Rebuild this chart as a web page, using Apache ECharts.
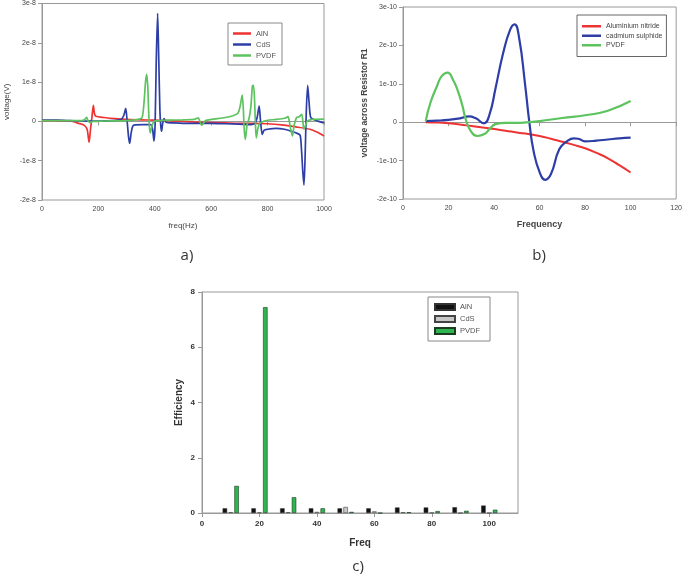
<!DOCTYPE html>
<html>
<head>
<meta charset="utf-8">
<script src="https://cdn.jsdelivr.net/npm/echarts@6/dist/echarts.min.js"></script>
<style>
html,body{margin:0;padding:0;background:#fff;}
#chart{width:685px;height:579px;}
</style>
</head>
<body>
<div id="chart"></div>
<script>
// ---------- Panel a) voltage(V) vs freq(Hz), values in units of 1e-8 V ----------
const aTicksY = [-2, -1, 0, 1, 2, 3];
const aAlN = [[0,0.02],[50,0.02],[100,0.01],[130,-0.05],[150,-0.1],[160,-0.2],[167,-0.53],[172,-0.2],[177,0.1],[182,0.41],[186,0.2],[191,0.13],[220,0.1],[260,0.07],[300,0.05],[350,0.04],[400,0.03],[450,0.02],[500,0],[550,-0.02],[600,-0.03],[650,-0.04],[700,-0.05],[750,-0.05],[800,-0.06],[850,-0.09],[900,-0.14],[950,-0.2],[975,-0.27],[1000,-0.37]];
const aCdS = [[0,0.03],[50,0.03],[100,0.02],[150,0.01],[200,0.01],[250,0.02],[280,0.05],[290,0.15],[297,0.33],[302,0.0],[307,-0.4],[311,-0.56],[316,-0.3],[322,-0.12],[330,-0.09],[360,-0.08],[385,-0.08],[392,-0.2],[397,-0.5],[401,-0.1],[405,1.5],[410,2.75],[414,1.6],[418,0.3],[421,-0.1],[424,-0.25],[428,-0.05],[433,0.07],[440,-0.02],[470,-0.04],[500,-0.05],[550,-0.05],[600,-0.05],[650,-0.06],[700,-0.07],[740,-0.08],[755,-0.05],[763,0.1],[770,0.39],[775,0.0],[781,-0.33],[788,-0.22],[800,-0.2],[830,-0.18],[860,-0.2],[880,-0.24],[900,-0.29],[915,-0.35],[920,-0.7],[925,-1.3],[929,-1.62],[933,-0.9],[937,0.2],[942,0.92],[947,0.5],[953,0.1],[970,0.03],[1000,-0.04]];
const aPVDF = [[0,0.02],[50,0.02],[100,0.02],[140,0.02],[152,0.05],[158,0.1],[163,0.02],[170,-0.03],[180,0.0],[220,0.01],[300,0.02],[340,0.05],[355,0.1],[362,0.5],[367,1.0],[371,1.2],[375,0.9],[378,0.3],[381,-0.15],[384,-0.29],[390,-0.12],[397,0.0],[420,0.02],[450,0.03],[500,0.04],[540,0.05],[554,0.09],[560,0.0],[566,-0.1],[572,-0.05],[580,0.02],[600,0.05],[650,0.1],[680,0.15],[696,0.22],[703,0.4],[710,0.67],[714,0.3],[717,-0.2],[721,-0.46],[727,-0.1],[735,0.1],[741,0.4],[746,0.9],[750,0.92],[754,0.5],[757,-0.1],[760,-0.42],[765,-0.2],[772,-0.05],[785,0.0],[800,0.03],[830,0.05],[860,0.08],[872,0.12],[877,0.0],[882,-0.2],[888,-0.37],[894,-0.1],[903,0.1],[912,0.12],[921,0.18],[925,0.0],[929,-0.2],[934,-0.12],[940,0.0],[960,0.05],[1000,0.06]];

// ---------- Panel b) voltage across Resistor R1 vs Frequency, units of 1e-10 ----------
const bAlN = [[10,0],[15,-0.01],[20,-0.03],[25,-0.06],[30,-0.1],[35,-0.14],[40,-0.18],[45,-0.22],[50,-0.27],[55,-0.31],[60,-0.36],[65,-0.43],[70,-0.51],[75,-0.59],[80,-0.68],[85,-0.8],[90,-0.94],[95,-1.12],[100,-1.31]];
const bCdS = [[10,0.03],[15,0.04],[20,0.06],[25,0.1],[29,0.15],[32,0.1],[35.5,-0.03],[38,0.2],[40.7,0.9],[44,1.8],[47,2.4],[49,2.55],[51,2.2],[53.6,1.0],[55.5,0.0],[57.3,-0.73],[60,-1.3],[62.5,-1.5],[65,-1.35],[68.7,-0.7],[72,-0.5],[75,-0.42],[77,-0.43],[80,-0.5],[85,-0.48],[90,-0.45],[95,-0.42],[100,-0.4]];
const bPVDF = [[10,0.03],[12,0.5],[15,0.95],[17,1.2],[19.6,1.29],[22,1.1],[24,0.83],[26,0.45],[27.7,0.05],[30,-0.25],[32.7,-0.36],[36,-0.3],[38,-0.18],[40.7,-0.05],[45,-0.02],[50,-0.02],[55,0.0],[60,0.03],[70,0.11],[80,0.18],[90,0.3],[100,0.55]];

// ---------- Panel c) Efficiency vs Freq ----------
const cFreq = [10, 20, 30, 40, 50, 60, 70, 80, 90, 100];
const cAlN  = [0.17, 0.17, 0.17, 0.17, 0.17, 0.17, 0.2, 0.2, 0.21, 0.27];
const cCdS  = [0.03, 0.02, 0.03, 0.04, 0.22, 0.06, 0.03, 0.01, 0, 0];
const cPVDF = [0.98, 7.45, 0.57, 0.17, 0.04, 0, 0.03, 0.07, 0.08, 0.12];

const RED = '#ee3333', BLUE = '#2d3fa6', GREEN = '#5cc35e';
const FONT = 'Liberation Sans';
const frame = '#999';

function pair(xs, ys){ return xs.map((x,i)=>[x, ys[i]]); }
function sciFmt(exp){ return v => v === 0 ? '0' : (Math.round(v) + 'e-' + exp); }
function plain(v){ return String(v); }
function stripTag(n){ return n.replace(/ \[[abc]\]$/, ''); }

const axisCommon = {
  axisLine:{show:true, lineStyle:{color:frame, width:1}},
  axisTick:{show:true, inside:false, length:4, lineStyle:{color:frame}},
  splitLine:{show:false},
};

const chart = echarts.init(document.getElementById('chart'), null, {renderer:'canvas'});
chart.setOption({
  animation:false,
  backgroundColor:'#fff',
  grid:[
    {left:42, top:3, width:282, height:197, show:true, borderColor:frame, borderWidth:1},
    {left:403, top:7, width:276, height:192, show:true, borderColor:frame, borderWidth:1},
    {left:202, top:292, width:316, height:221, show:true, borderColor:frame, borderWidth:1}
  ],
  xAxis:[
    Object.assign({}, axisCommon, {gridIndex:0, type:'value', min:0, max:1000, interval:200,
      name:'freq(Hz)', nameLocation:'middle', nameGap:22,
      nameTextStyle:{fontFamily:FONT, fontSize:8, color:'#444'},
      axisLabel:{fontFamily:FONT, fontSize:7, color:'#444', margin:6, formatter:plain}}),
    Object.assign({}, axisCommon, {gridIndex:1, type:'value', min:0, max:120, interval:20,
      name:'Frequency', nameLocation:'middle', nameGap:21,
      nameTextStyle:{fontFamily:FONT, fontSize:9, fontWeight:'bold', color:'#444'},
      axisLabel:{fontFamily:FONT, fontSize:7, color:'#444', margin:6, formatter:plain}}),
    Object.assign({}, axisCommon, {gridIndex:2, type:'value', min:0, max:110, interval:20,
      name:'Freq', nameLocation:'middle', nameGap:25,
      nameTextStyle:{fontFamily:FONT, fontSize:10, fontWeight:'bold', color:'#333'},
      axisLabel:{fontFamily:FONT, fontSize:8, fontWeight:'bold', color:'#333', margin:7, showMaxLabel:false, formatter:plain}})
  ],
  yAxis:[
    Object.assign({}, axisCommon, {gridIndex:0, type:'value', min:aTicksY[0], max:aTicksY[aTicksY.length-1], interval:1,
      name:'voltage(V)', nameLocation:'middle', nameGap:31,
      nameTextStyle:{fontFamily:FONT, fontSize:8, color:'#444'},
      axisLabel:{fontFamily:FONT, fontSize:7, color:'#444', margin:6, formatter:sciFmt(8)}}),
    Object.assign({}, axisCommon, {gridIndex:1, type:'value', min:-2, max:3, interval:1,
      name:'voltage across Resistor R1', nameLocation:'middle', nameGap:34,
      nameTextStyle:{fontFamily:FONT, fontSize:8.5, fontWeight:'bold', color:'#444'},
      axisLabel:{fontFamily:FONT, fontSize:7, color:'#444', margin:6, formatter:sciFmt(10)}}),
    Object.assign({}, axisCommon, {gridIndex:2, type:'value', min:0, max:8, interval:2,
      name:'Efficiency', nameLocation:'middle', nameGap:18,
      nameTextStyle:{fontFamily:FONT, fontSize:10, fontWeight:'bold', color:'#333'},
      axisLabel:{fontFamily:FONT, fontSize:8, fontWeight:'bold', color:'#333', margin:7}})
  ],
  legend:[
    {data:['AlN [a]','CdS [a]','PVDF [a]'], left:228, top:23, orient:'vertical', icon:'rect',
     formatter:stripTag, itemWidth:18, itemHeight:2.5, itemGap:2,
     padding:[6,6,5,5], borderColor:'#888', borderWidth:1, backgroundColor:'#fff',
     textStyle:{fontFamily:FONT, fontSize:7.5, color:'#555', lineHeight:9}},
    {data:['Aluminium nitride [b]','cadmium sulphide [b]','PVDF [b]'], left:577, top:15, orient:'vertical', icon:'rect',
     formatter:stripTag, itemWidth:19, itemHeight:2.5, itemGap:1,
     padding:[7,4,7,5], borderColor:'#666', borderWidth:1, backgroundColor:'#fff',
     textStyle:{fontFamily:FONT, fontSize:7, color:'#444', lineHeight:8.5}},
    {data:['AlN [c]','CdS [c]','PVDF [c]'], left:428, top:297, orient:'vertical', icon:'rect',
     formatter:stripTag, itemWidth:20, itemHeight:6, itemGap:4,
     padding:[6,10,6,6], borderColor:'#888', borderWidth:1, backgroundColor:'#fff',
     textStyle:{fontFamily:FONT, fontSize:7.5, color:'#555'}}
  ],
  series:[
    {name:'AlN [a]', type:'line', xAxisIndex:0, yAxisIndex:0, data:aAlN, showSymbol:false, symbol:'none', smooth:0.25, lineStyle:{color:RED, width:1.7}, itemStyle:{color:RED}, z:3},
    {name:'CdS [a]', type:'line', xAxisIndex:0, yAxisIndex:0, data:aCdS, showSymbol:false, symbol:'none', smooth:0.25, lineStyle:{color:BLUE, width:1.7}, itemStyle:{color:BLUE}, z:4},
    {name:'PVDF [a]', type:'line', xAxisIndex:0, yAxisIndex:0, data:aPVDF, showSymbol:false, symbol:'none', smooth:0.25, lineStyle:{color:GREEN, width:1.7}, itemStyle:{color:GREEN}, z:5},

    {name:'Aluminium nitride [b]', type:'line', xAxisIndex:1, yAxisIndex:1, data:bAlN, showSymbol:false, symbol:'none', smooth:true, lineStyle:{color:RED, width:2}, itemStyle:{color:RED}},
    {name:'cadmium sulphide [b]', type:'line', xAxisIndex:1, yAxisIndex:1, data:bCdS, showSymbol:false, symbol:'none', smooth:true, lineStyle:{color:BLUE, width:2.2}, itemStyle:{color:BLUE}},
    {name:'PVDF [b]', type:'line', xAxisIndex:1, yAxisIndex:1, data:bPVDF, showSymbol:false, symbol:'none', smooth:true, lineStyle:{color:GREEN, width:2.2}, itemStyle:{color:GREEN}},

    {name:'AlN [c]', type:'bar', xAxisIndex:2, yAxisIndex:2, data:pair(cFreq, cAlN), barWidth:4.5, barGap:'30%', itemStyle:{color:'#111', borderColor:'#333', borderWidth:0.5}},
    {name:'CdS [c]', type:'bar', xAxisIndex:2, yAxisIndex:2, data:pair(cFreq, cCdS), barWidth:4.5, barGap:'30%', itemStyle:{color:'#c8c8c8', borderColor:'#444', borderWidth:0.6}},
    {name:'PVDF [c]', type:'bar', xAxisIndex:2, yAxisIndex:2, data:pair(cFreq, cPVDF), barWidth:4.5, barGap:'30%', itemStyle:{color:'#2fb54f', borderColor:'#1d3d22', borderWidth:0.6}}
  ],
  graphic:[
    {type:'text', x:187, y:256, style:{text:'a)', font:'15px "Open Sans"', fill:'#333', textAlign:'center', textVerticalAlign:'middle'}},
    {type:'text', x:539, y:256, style:{text:'b)', font:'15px "Open Sans"', fill:'#333', textAlign:'center', textVerticalAlign:'middle'}},
    {type:'text', x:358, y:567, style:{text:'c)', font:'15px "Open Sans"', fill:'#333', textAlign:'center', textVerticalAlign:'middle'}}
  ]
});
</script>
</body>
</html>
